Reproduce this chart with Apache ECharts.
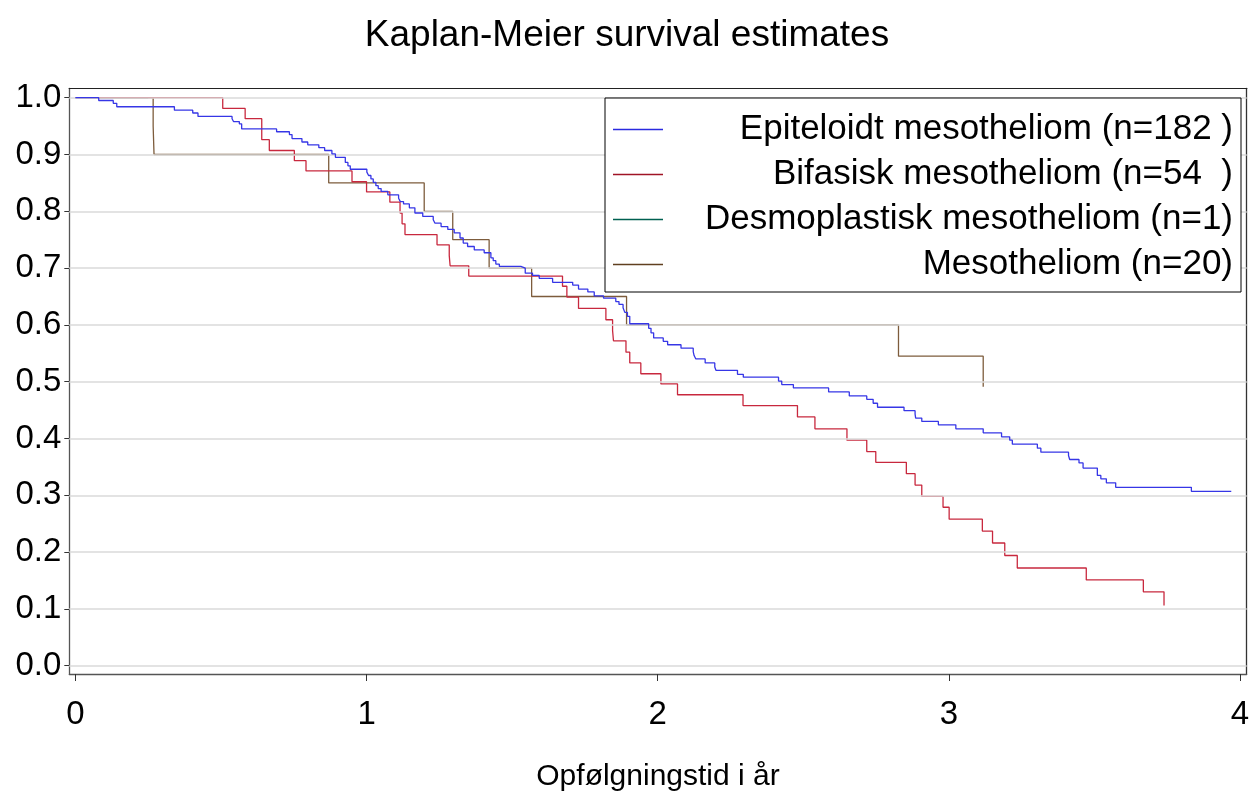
<!DOCTYPE html>
<html>
<head>
<meta charset="utf-8">
<script src="https://cdn.jsdelivr.net/npm/echarts@6/dist/echarts.min.js"></script>
<style>html,body{margin:0;padding:0;background:#fff}#c{width:1254px;height:794px}</style>
</head>
<body>
<div id="c"></div>
<script>
const FONT = 'Liberation Sans';
const titleText = 'Kaplan-Meier survival estimates';
const xName = 'Opfølgningstid i år';
const seriesNames = ['Epiteloidt mesotheliom (n=182 )', 'Bifasisk mesotheliom (n=54  )', 'Desmoplastisk mesotheliom (n=1)', 'Mesotheliom (n=20)'];
const xTicks = [0, 1, 2, 3, 4];
const yTicks = [0.0, 0.1, 0.2, 0.3, 0.4, 0.5, 0.6, 0.7, 0.8, 0.9, 1.0];

const epiT = [0, 0.080, 0.130, 0.142, 0.340, 0.403, 0.421, 0.538, 0.543, 0.563, 0.571, 0.691, 0.735, 0.744, 0.778, 0.798, 0.836, 0.856, 0.881, 0.893, 0.927, 0.936, 0.944, 1.001, 1.007, 1.015, 1.023, 1.032, 1.040, 1.050, 1.073, 1.110, 1.116, 1.127, 1.147, 1.166, 1.193, 1.229, 1.235, 1.256, 1.279, 1.301, 1.321, 1.332, 1.347, 1.370, 1.404, 1.427, 1.435, 1.444, 1.456, 1.530, 1.545, 1.570, 1.593, 1.639, 1.708, 1.728, 1.760, 1.782, 1.814, 1.856, 1.867, 1.881, 1.887, 1.896, 1.904, 1.969, 1.977, 1.986, 2.019, 2.034, 2.080, 2.122, 2.125, 2.131, 2.163, 2.196, 2.200, 2.274, 2.294, 2.415, 2.426, 2.466, 2.587, 2.658, 2.718, 2.740, 2.755, 2.846, 2.884, 2.886, 2.907, 2.964, 3.024, 3.118, 3.181, 3.209, 3.218, 3.304, 3.316, 3.411, 3.415, 3.447, 3.461, 3.510, 3.522, 3.541, 3.573, 3.833, 3.970];
const epiS = [1, 0.995, 0.990, 0.984, 0.978, 0.973, 0.967, 0.963, 0.958, 0.954, 0.945, 0.940, 0.935, 0.928, 0.922, 0.917, 0.912, 0.907, 0.901, 0.895, 0.886, 0.880, 0.874, 0.869, 0.863, 0.857, 0.851, 0.845, 0.840, 0.835, 0.829, 0.823, 0.817, 0.813, 0.806, 0.797, 0.791, 0.785, 0.779, 0.773, 0.768, 0.762, 0.753, 0.744, 0.738, 0.732, 0.727, 0.718, 0.713, 0.707, 0.703, 0.700, 0.691, 0.687, 0.682, 0.675, 0.670, 0.663, 0.658, 0.651, 0.647, 0.641, 0.636, 0.630, 0.622, 0.615, 0.602, 0.594, 0.586, 0.577, 0.571, 0.565, 0.559, 0.553, 0.546, 0.540, 0.533, 0.526, 0.520, 0.513, 0.508, 0.501, 0.495, 0.489, 0.482, 0.475, 0.469, 0.462, 0.455, 0.449, 0.443, 0.436, 0.430, 0.424, 0.417, 0.410, 0.403, 0.397, 0.390, 0.383, 0.376, 0.370, 0.363, 0.357, 0.348, 0.335, 0.329, 0.322, 0.314, 0.307, 0.307];

const bifT = [0, 0.506, 0.583, 0.640, 0.666, 0.752, 0.792, 0.950, 1.000, 1.080, 1.115, 1.122, 1.132, 1.242, 1.284, 1.287, 1.351, 1.673, 1.688, 1.728, 1.822, 1.845, 1.848, 1.891, 1.904, 1.942, 2.011, 2.068, 2.293, 2.480, 2.540, 2.650, 2.718, 2.749, 2.854, 2.884, 2.907, 2.980, 3.001, 3.115, 3.150, 3.192, 3.235, 3.472, 3.668, 3.739];
const bifS = [1, 0.981, 0.963, 0.926, 0.907, 0.889, 0.871, 0.852, 0.834, 0.816, 0.797, 0.778, 0.759, 0.741, 0.722, 0.704, 0.686, 0.668, 0.649, 0.629, 0.609, 0.590, 0.572, 0.552, 0.533, 0.514, 0.496, 0.477, 0.458, 0.438, 0.417, 0.397, 0.377, 0.358, 0.338, 0.318, 0.298, 0.279, 0.258, 0.237, 0.216, 0.194, 0.172, 0.151, 0.130, 0.106];

const desT = [0, 0.25];
const desS = [1, 1];

const mesT = [0, 0.267, 0.270, 0.870, 1.198, 1.296, 1.421, 1.567, 1.893, 2.827, 3.118];
const mesS = [1, 0.95, 0.90, 0.85, 0.80, 0.75, 0.70, 0.65, 0.60, 0.545, 0.491];

const plotColors = ['#3636e6', '#c8283e', '#006050', '#7d5c3c'];
const legendColors = ['#2a2ae0', '#a01426', '#006050', '#604020'];

function pairs(t, s) { return t.map((v, i) => [v, s[i]]); }

const chart = echarts.init(document.getElementById('c'), null, { renderer: 'canvas' });

const lineSeries = (idx, t, s, z) => ({
  name: seriesNames[idx],
  type: 'line',
  step: 'end',
  symbol: 'none',
  data: pairs(t, s),
  z: z,
  lineStyle: { color: plotColors[idx], width: 1.3 },
  itemStyle: { color: plotColors[idx] },
  emphasis: { disabled: true },
  animation: false
});

const XMIN = -0.021, XMAX = 4.023, YMIN = -0.0146, YMAX = 1.0165;

const option = {
  animation: false,
  backgroundColor: '#fff',
  textStyle: { fontFamily: FONT },
  title: {
    text: titleText,
    left: 'center',
    top: 12,
    textStyle: { fontFamily: FONT, fontSize: 37, fontWeight: 'normal', color: '#000' }
  },
  grid: { left: 69.3, right: 7.3, top: 88.3, bottom: 120, containLabel: false, outerBoundsMode: 'none' },
  legend: {
    orient: 'vertical',
    left: 605,
    top: 98,
    z: 20,
    padding: [14, 8, 10, 8],
    backgroundColor: '#fff',
    borderColor: '#000',
    borderWidth: 1,
    itemWidth: 50,
    itemHeight: 1.5,
    itemGap: 10,
    selectedMode: false,
    data: seriesNames.map((n, i) => ({ name: n, icon: 'rect', itemStyle: { color: legendColors[i] } })),
    formatter: name => '{a|' + name + '}',
    textStyle: {
      fontFamily: FONT, fontSize: 35, color: '#000',
      rich: { a: { fontFamily: FONT, fontSize: 35, width: 565, align: 'right', lineHeight: 37, color: '#000' } }
    }
  },
  xAxis: [{
    type: 'value',
    min: XMIN,
    max: XMAX,
    position: 'bottom',
    name: xName,
    nameLocation: 'middle',
    nameGap: 88,
    nameTextStyle: { fontFamily: FONT, fontSize: 30, color: '#000' },
    axisLine: { show: true, onZero: false, lineStyle: { color: '#555', width: 1.3 } },
    axisTick: { show: true, length: 7, customValues: xTicks, lineStyle: { color: '#333', width: 1 } },
    axisLabel: { show: true, customValues: xTicks, margin: 24, fontFamily: FONT, fontSize: 33, color: '#000', formatter: v => String(Math.round(v)) },
    splitLine: { show: false }
  }, {
    type: 'value',
    min: XMIN,
    max: XMAX,
    position: 'top',
    axisLine: { show: true, onZero: false, lineStyle: { color: '#222', width: 1.2 } },
    axisTick: { show: false },
    axisLabel: { show: false },
    splitLine: { show: false }
  }],
  yAxis: [{
    type: 'value',
    min: YMIN,
    max: YMAX,
    position: 'left',
    axisLine: { show: true, onZero: false, lineStyle: { color: '#555', width: 1.3 } },
    axisTick: { show: true, length: 5, customValues: yTicks, lineStyle: { color: '#333', width: 1 } },
    axisLabel: { show: true, customValues: yTicks, margin: 8, fontFamily: FONT, fontSize: 33, color: '#000', formatter: v => v.toFixed(1) },
    splitLine: { show: false }
  }, {
    type: 'value',
    min: YMIN,
    max: YMAX,
    position: 'right',
    axisLine: { show: true, onZero: false, lineStyle: { color: '#333', width: 1.3 } },
    axisTick: { show: false },
    axisLabel: { show: false },
    splitLine: { show: false }
  }],
  series: [
    {
      name: 'grid', type: 'line', data: [], silent: true, z: 1,
      markLine: {
        silent: true, symbol: ['none', 'none'], animation: false,
        label: { show: false },
        lineStyle: { color: '#dadada', width: 1.6, type: 'solid' },
        emphasis: { disabled: true },
        data: yTicks.map(v => ({ yAxis: v }))
      }
    },
    lineSeries(2, desT, desS, 2),
    lineSeries(3, mesT, mesS, 3),
    lineSeries(1, bifT, bifS, 4),
    lineSeries(0, epiT, epiS, 5)
  ]
};
chart.setOption(option);
</script>
</body>
</html>
